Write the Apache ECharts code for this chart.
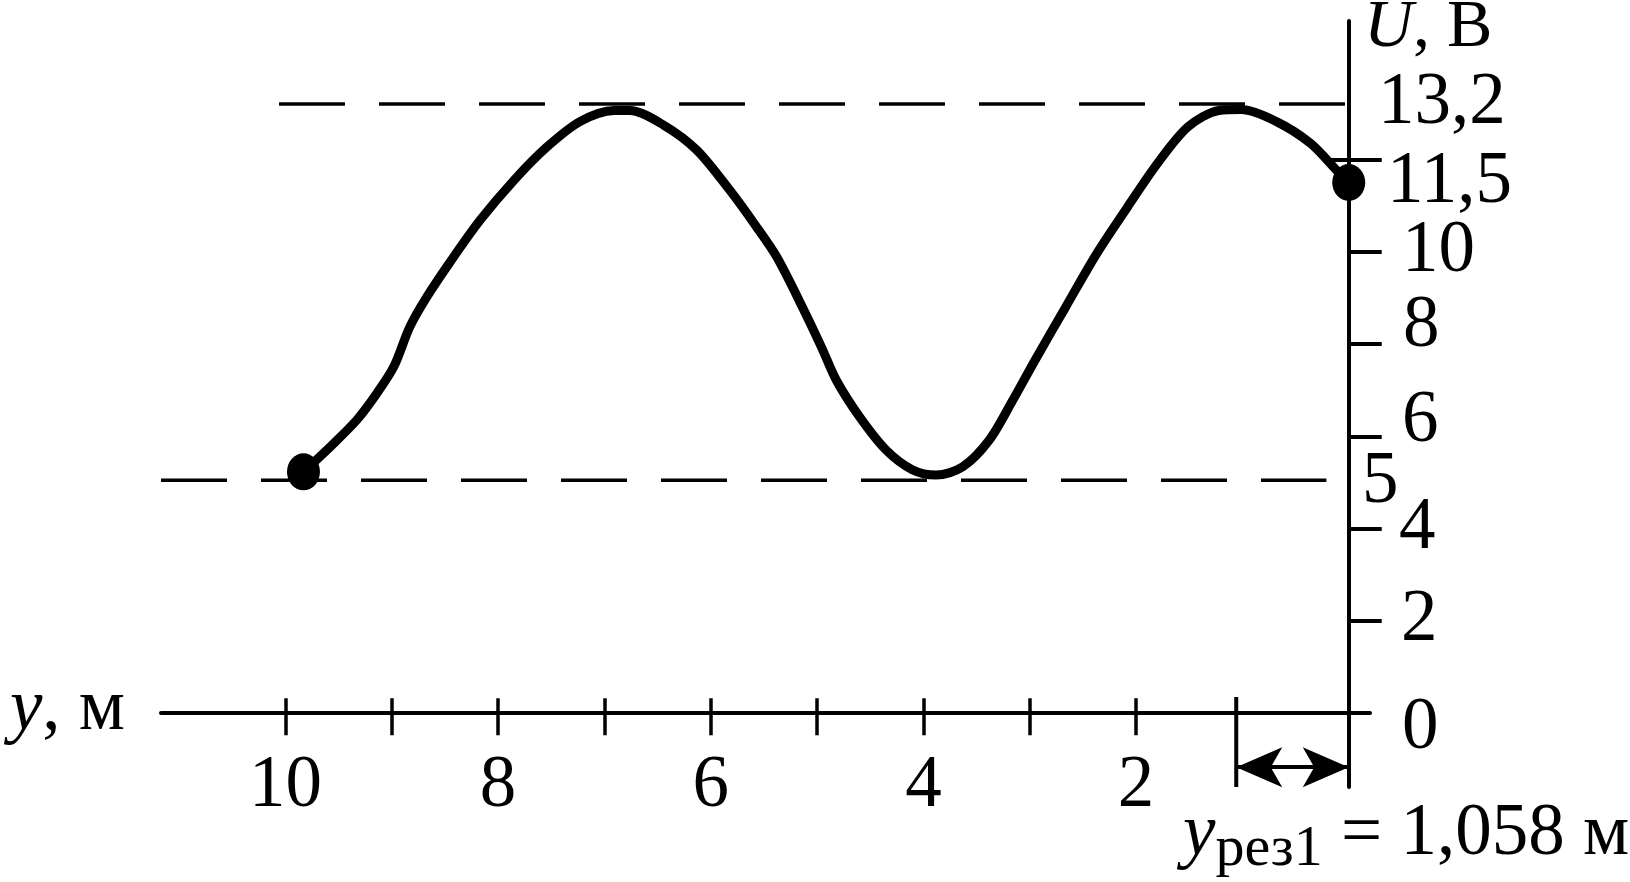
<!DOCTYPE html>
<html><head><meta charset="utf-8">
<script src="https://cdn.jsdelivr.net/npm/echarts@6/dist/echarts.min.js"></script>
<style>html,body{margin:0;padding:0;background:#fff}#c{width:1630px;height:882px}</style>
</head><body><div id="c"></div>
<script>
// distance y (m) and voltage U (V)
const curveDist = [9.83,9.58,9.33,9.14,8.98,8.83,8.67,8.45,8.17,7.85,7.54,7.23,6.91,6.76,6.44,6.13,5.82,5.57,5.38,5.14,4.96,4.82,4.60,4.35,4.10,3.88,3.63,3.38,3.16,2.95,2.66,2.37,2.08,1.80,1.51,1.22,1.01,0.68,0.36,0.10,0];
const curveU    = [5.23,5.77,6.35,6.93,7.51,8.37,9.02,9.78,10.68,11.55,12.27,12.82,13.06,13.06,12.74,12.20,11.33,10.54,9.89,8.81,7.94,7.22,6.42,5.70,5.27,5.16,5.34,5.92,6.78,7.65,8.81,9.96,10.97,11.91,12.71,13.06,13.08,12.82,12.35,11.73,11.5];
const dotDist = [9.83, 0];
const dotU = [5.23, 11.5];
const levelMax = 13.2;
const levelMaxSpan = [10.06, 0];
const levelMin = 5.05;
const levelMinSpan = [11.17, 0.21];
const yRes = 1.058;
const yResLineU = [0.35, -1.6];
const arrowU = -1.17;
const xTickValues = [2,3,4,5,6,7,8,9,10];
const xLabelValues = [2,4,6,8,10];
const yTickValues = [2,4,6,8,10,12];
const yInnerTickValues = [12];
const yLabelValues = [0,2,4,5,6,8,10,11.5,13.2];
const yLabelTexts = ['0','2','4','5','6','8','10','11,5','13,2'];
const xRange = [-0.2, 11.17];
const yRange = [-1.6, 15];

const FONT = 'Liberation Serif';
const FS = 73;
const chart = echarts.init(document.getElementById('c'), null, {renderer:'canvas'});

const yRich = {};
const yPads = {'0':[32,0,0,40],'2':[0,0,0,39],'4':[0,0,0,37],'5':[0,0,0,0],'6':[0,0,28,40],'8':[0,0,34,41],'10':[0,0,0,40],'11,5':[0,0,0,25],'13,2':[0,0,0,16]};
yLabelTexts.forEach((t,i)=>{ yRich['s'+i] = {fontFamily:FONT,fontSize:FS,color:'#000',lineHeight:FS,padding:yPads[t]}; });

const curveData = curveDist.map((d,i)=>[d, curveU[i]]);
const dotData = dotDist.map((d,i)=>[d, dotU[i]]);

const option = {
  backgroundColor:'#fff',
  animation:false,
  grid:{left:161,right:260,top:21,bottom:95,containLabel:false,outerBoundsMode:'none'},
  xAxis:[{
    type:'value', min:xRange[0], max:xRange[1], inverse:true, position:'bottom',
    axisLine:{show:true,onZero:true,onZeroAxisIndex:0,lineStyle:{color:'#000',width:4}},
    axisTick:{show:true,inside:false,length:22,customValues:xTickValues,lineStyle:{color:'#000',width:3.5}},
    axisLabel:{show:true,customValues:xLabelValues,margin:-37,fontFamily:FONT,fontSize:FS,color:'#000',lineHeight:FS,formatter:v=>String(v)},
    splitLine:{show:false}
  },{
    type:'value', min:xRange[0], max:xRange[1], inverse:true, position:'bottom',
    axisLine:{show:false,onZero:true,onZeroAxisIndex:0},
    axisTick:{show:true,inside:true,length:15,customValues:xTickValues,lineStyle:{color:'#000',width:3.5}},
    axisLabel:{show:false},
    splitLine:{show:false}
  }],
  yAxis:[{
    type:'value', min:yRange[0], max:yRange[1], position:'right',
    axisLine:{show:true,onZero:true,onZeroAxisIndex:0,lineStyle:{color:'#000',width:4}},
    axisTick:{show:true,inside:false,length:33,customValues:yTickValues,lineStyle:{color:'#000',width:4}},
    axisLabel:{show:true,customValues:yLabelValues,margin:-8,align:'left',verticalAlign:'middle',
      formatter:function(v){const i=yLabelValues.findIndex(x=>Math.abs(x-v)<1e-6); return i<0?'':'{s'+i+'|'+yLabelTexts[i]+'}';},
      rich:yRich},
    splitLine:{show:false}
  },{
    type:'value', min:yRange[0], max:yRange[1], position:'right',
    axisLine:{show:false,onZero:true,onZeroAxisIndex:0},
    axisTick:{show:true,inside:true,length:19,customValues:yInnerTickValues,lineStyle:{color:'#000',width:4}},
    axisLabel:{show:false},
    splitLine:{show:false}
  }],
  series:[
    {type:'line',silent:true,symbol:'none',data:[[levelMaxSpan[0],levelMax],[levelMaxSpan[1],levelMax]],
     lineStyle:{color:'#000',width:3.5,type:[66,34]}},
    {type:'line',silent:true,symbol:'none',data:[[levelMinSpan[0],levelMin],[levelMinSpan[1],levelMin]],
     lineStyle:{color:'#000',width:3.5,type:[66,34]}},
    {type:'line',silent:true,symbol:'none',smooth:0.3,data:curveData,
     lineStyle:{color:'#000',width:9,cap:'round',join:'round'}},
    {type:'scatter',silent:true,symbol:'circle',symbolSize:[33,37],data:dotData,itemStyle:{color:'#000',opacity:1}},
    {type:'line',silent:true,symbol:'none',data:[[yRes,yResLineU[0]],[yRes,yResLineU[1]]],
     lineStyle:{color:'#000',width:4},
     markLine:{silent:true,symbol:['arrow','arrow'],symbolSize:[30,46],
       label:{show:false},lineStyle:{color:'#000',width:4,type:'solid'},
       data:[[{coord:[yRes,arrowU]},{coord:[0,arrowU]}]]}}
  ],
  graphic:[
    {type:'text',x:1364,y:28,style:{text:'{i|U}{n|, В}',align:'left',verticalAlign:'middle',
      rich:{i:{fontFamily:FONT,fontStyle:'italic',fontSize:68,fill:'#000',lineHeight:68},n:{fontFamily:FONT,fontSize:68,fill:'#000',lineHeight:68}}}},
    {type:'text',x:125,y:710,style:{text:'{i|y}{n|, м}',align:'right',verticalAlign:'middle',
      rich:{i:{fontFamily:FONT,fontStyle:'italic',fontSize:FS,fill:'#000',lineHeight:FS},n:{fontFamily:FONT,fontSize:FS,fill:'#000',lineHeight:FS}}}},
    {type:'text',x:1183,y:835,style:{text:'{i|y}{s|рез1}{n| = 1,058 м}',align:'left',verticalAlign:'middle',
      rich:{i:{fontFamily:FONT,fontStyle:'italic',fontSize:FS,fill:'#000',lineHeight:80},
            s:{fontFamily:FONT,fontSize:58,fill:'#000',lineHeight:60,padding:[30,0,0,0]},
            n:{fontFamily:FONT,fontSize:FS,fill:'#000',lineHeight:80}}}}
  ]
};
chart.setOption(option);
</script></body></html>
